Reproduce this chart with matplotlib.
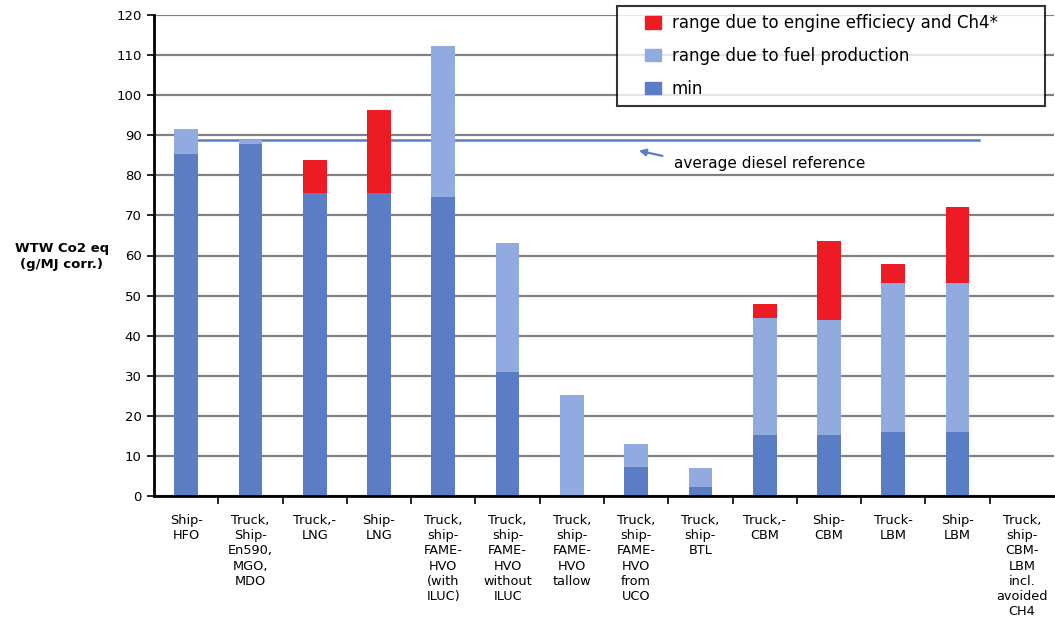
import matplotlib
matplotlib.use("Agg")
import matplotlib.pyplot as plt
from matplotlib.patches import Patch, Rectangle
from matplotlib.legend_handler import HandlerPatch
import numpy as np

categories = [
    "Ship-\nHFO",
    "Truck,\nShip-\nEn590,\nMGO,\nMDO",
    "Truck,-\nLNG",
    "Ship-\nLNG",
    "Truck,\nship-\nFAME-\nHVO\n(with\nILUC)",
    "Truck,\nship-\nFAME-\nHVO\nwithout\nILUC",
    "Truck,\nship-\nFAME-\nHVO\ntallow",
    "Truck,\nship-\nFAME-\nHVO\nfrom\nUCO",
    "Truck,\nship-\nBTL",
    "Truck,-\nCBM",
    "Ship-\nCBM",
    "Truck-\nLBM",
    "Ship-\nLBM",
    "Truck,\nship-\nCBM-\nLBM\nincl.\navoided\nCH4",
]
min_vals = [85.4, 87.9, 75.6, 75.6, 74.6, 31.0, 0.0, 7.2, 2.2, 15.2, 15.2, 16.0, 16.0, 0.0]
fuel_top = [91.6, 88.8, 75.6, 75.6, 112.3, 63.0, 25.3, 13.0, 7.0, 44.3, 43.9, 53.1, 53.1, 0.0]
engine_top = [91.6, 88.8, 83.9, 96.3, 112.3, 63.0, 25.3, 13.0, 7.0, 48.0, 63.6, 57.9, 72.1, 0.0]
diesel_ref = 88.8

labels_legend = ["range due to engine efficiecy and Ch4*",
                 "range due to fuel production",
                 "min"]

c_min = "#5A7DC6"
c_fuel = "#91AADF"
c_eng = "#ED1C24"

fig = plt.figure(figsize=(10.55, 6.23), dpi=100)
ax = fig.add_axes([154/1055, 1-496/623, 900/1055, 481/623])

x = np.arange(len(categories))
mins = np.array(min_vals)
ft = np.array(fuel_top)
et = np.array(engine_top)
w = 0.37

ax.set_axisbelow(True)
ax.yaxis.grid(True, color="#808080", linewidth=1.6)
# diesel reference line
ax.plot([0, 12.33], [diesel_ref, diesel_ref], color="#5A7DC6", linewidth=1.8, zorder=1.5)

ax.bar(x, mins, width=w, color=c_min, zorder=2)
ax.bar(x, ft - mins, bottom=mins, width=w, color=c_fuel, zorder=2)
ax.bar(x, et - ft, bottom=ft, width=w, color=c_eng, zorder=2)

ax.set_xlim(-0.5, len(categories) - 0.5)
ax.set_ylim(0, 120)
ax.set_yticks(np.arange(0, 121, 10))
ax.tick_params(axis="y", labelsize=9.5, length=5, width=1.2, pad=4)

ax.set_xticks(x)
ax.set_xticklabels(categories, fontsize=9.3, linespacing=1.22)
ax.tick_params(axis="x", length=0, pad=13)
ax.set_xticks(x[:-1] + 0.5, minor=True)
ax.tick_params(axis="x", which="minor", length=6, width=1.2, direction="out")

for s in ["top", "right"]:
    ax.spines[s].set_visible(False)
ax.spines["left"].set_linewidth(2)
ax.spines["bottom"].set_linewidth(2)

ax.annotate("", xy=(7.0, 86.3), xytext=(7.45, 84.7),
            arrowprops=dict(arrowstyle="-|>", color="#5A7DC6", lw=1.6, mutation_scale=10))
ax.text(7.59, 82.9, "average diesel reference", fontsize=11, va="center", ha="left")

fig.text(62/1055, 1-256/623, "WTW Co2 eq\n(g/MJ corr.)", fontsize=9.5, fontweight="bold",
         ha="center", va="center", linespacing=1.3)


def square_patch(legend, orig_handle, xdescent, ydescent, width, height, fontsize):
    sq = height * 1.3
    return Rectangle((-xdescent + width - sq, -ydescent), sq, height)


handles = [Patch(color=c_eng), Patch(color=c_fuel), Patch(color=c_min)]
leg = ax.legend(handles, labels_legend, loc="upper left", mode="expand",
                bbox_to_anchor=(617/1055, 1-104/623, 428/1055, 98/623),
                bbox_transform=fig.transFigure,
                fontsize=12, frameon=True, fancybox=False, borderaxespad=0,
                handlelength=2.16, handleheight=0.78, labelspacing=0.88,
                borderpad=0.5, handletextpad=0.62,
                handler_map={Patch: HandlerPatch(patch_func=square_patch)})
leg.get_frame().set_edgecolor("black")
leg.get_frame().set_linewidth(1.5)
leg.set_zorder(5)

fig.savefig("out.png", dpi=100)
